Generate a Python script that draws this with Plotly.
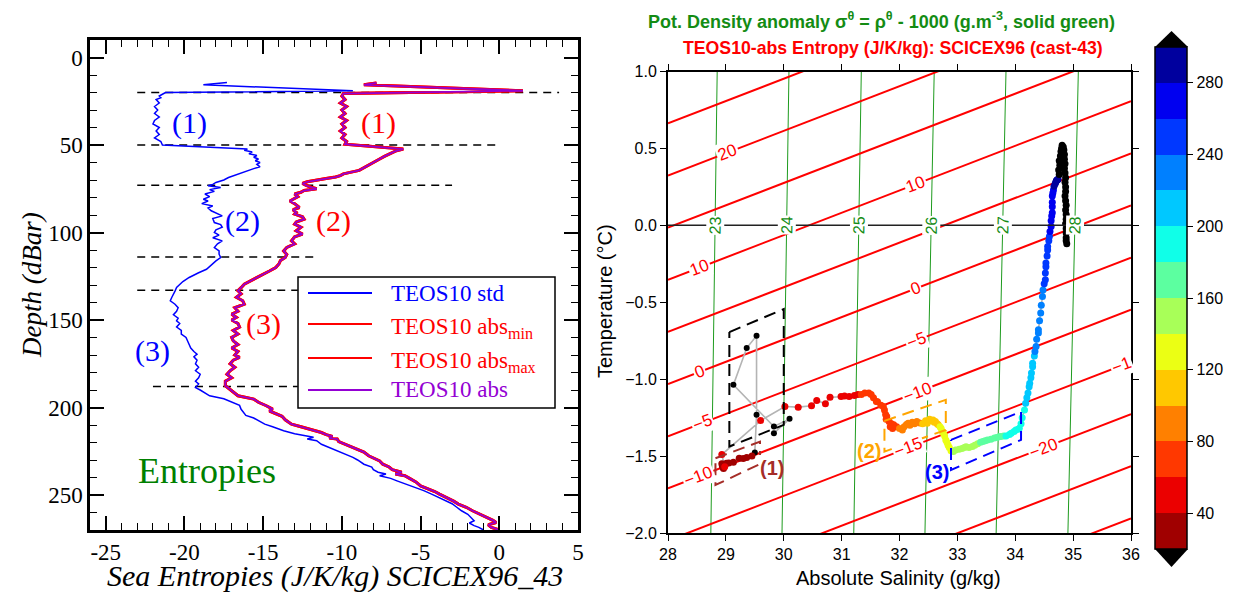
import plotly.graph_objects as go

# The page body adds an 8 px margin; the figure is sized so that it exactly fills the window.
OFF = 8
W, H = 1233 - OFF, 593 - OFF


def px(x):
    return (x - OFF) / W


def py(y):
    return 1 - (y - OFF) / H


# ----------------------------------------------------------------- DATA ----
# Left panel : entropy profiles (J/K/kg) versus depth (dBar)
std_depth = [14.3, 15.6, 19.0, 20.0, 21, 22, 23, 24, 26, 28, 30, 32, 34, 36, 38, 40, 42, 44, 46, 48, 50,
             50.5, 51.5, 52.3, 53, 54, 55, 56, 57, 58, 59, 60, 61, 62.5, 63.5, 64.8, 66, 67.5, 68.6, 70,
             71.4, 72.5, 73.3, 74.3, 75.5, 76.5, 78, 79.5, 81, 82, 83.5, 84.8, 86, 87.6, 89, 90.5, 92,
             94.3, 95.5, 97, 98.5, 100, 101.5, 103, 104.8, 106.5, 108.6, 110.5, 112.4, 114.3, 116.2, 118,
             121, 123, 125.7, 128, 131.4, 133.5, 135, 137, 139, 141, 143, 145, 147, 149, 150.5, 152, 154,
             156, 158, 160, 162, 163.8, 166, 168, 169.5, 171, 173, 175, 177, 179, 181, 183, 185, 186.5,
             188.6, 190, 191.5, 193.3, 195, 197, 198.8, 201, 203, 204.5, 206, 208, 209.5, 211, 213.3, 215,
             216, 217, 218, 219, 221, 222.8, 224.5, 226.7, 228.5, 230, 232.4, 234, 235.5, 237, 238, 239,
             240.5, 241.9, 243.5, 245.7, 247.5, 249.5, 251.5, 253.3, 255, 257, 259, 261, 263, 264.7, 266,
             267.5, 268.5, 270]
std_entropy = [-17.3, -18.8, -9.3, -21.2, -21.4, -21.6, -21.5, -21.8, -21.6, -21.9, -21.7, -21.9, -21.6,
               -21.9, -22.0, -21.6, -21.8, -21.6, -21.9, -21.5, -21.4,
               -20.0, -17.5, -16.0, -16.2, -15.7, -15.9, -15.4, -15.6, -15.3, -15.5, -15.2, -15.4, -15.2,
               -15.6, -16.0, -16.5, -16.9, -17.2, -17.5,
               -18.0, -18.2, -18.5, -17.7, -18.4, -18.1, -18.7, -18.4, -18.8, -18.5, -18.9, -18.2, -18.5,
               -18.3, -17.9, -17.6, -18.2,
               -18.1, -17.7, -17.6, -18.0, -18.1, -17.8, -18.2, -17.6, -17.9, -18.1, -17.8, -17.8, -17.7,
               -18.0, -18.2,
               -18.6, -19.1, -19.7, -20.1, -20.5, -20.6, -20.7, -20.8, -20.9, -20.6, -20.4, -20.5, -20.7,
               -20.4, -20.5, -20.3, -20.5,
               -20.2, -20.2, -19.9, -19.8, -19.7, -19.6, -19.4, -19.2, -19.4, -19.2, -19.3, -19.1, -19.3,
               -19.0, -19.1, -19.3, -19.1,
               -19.3, -19.0, -18.7, -18.4, -17.5, -17.0, -16.5, -16.4, -16.2, -16.1, -15.6, -15.2, -14.9,
               -14.4, -13.7, -13.0,
               -12.5, -11.8, -12.2, -11.6, -11.3, -10.8, -10.3, -9.8, -9.3, -9.0, -8.6, -8.1, -8.0, -7.7,
               -7.2, -7.6,
               -6.9, -6.5, -6.0, -5.3, -4.8, -4.3, -3.8, -3.4, -3.0, -2.7, -2.4, -2.0, -1.8, -1.6, -1.9,
               -1.6, -1.3, -1.0]

abs_depth = [14.5, 15.6, 19.0, 20.6, 22, 24, 26, 28, 30, 32, 34, 36, 38, 40, 42, 44, 46, 48, 49.5,
             50.5, 51.5, 52.3, 53.5, 55, 56.5, 58, 59.5, 60.7, 62, 63.2, 64.5, 65.5, 66.5, 67.5, 68.3,
             69.2, 70.2, 71, 72, 73, 74, 75, 76, 77, 78, 79.5, 81, 82, 83.5, 85, 85.7, 87, 88.5, 89.5, 91,
             92.4, 94, 95.2, 97, 99, 100.9, 102.5, 104.8, 106.5, 108.5, 110.5, 112.5, 114.3, 116, 118, 120,
             122, 124.8, 127, 129.5, 131.5, 133.3, 135, 137, 139, 141, 143, 145, 146.7, 148.5, 150, 152,
             154, 156, 158, 160, 161.9, 164, 166, 168, 170, 171.4, 173, 175, 177, 179, 181, 183, 185,
             187.6, 189, 191, 193.3, 195.2, 197, 199, 200.9, 202, 203.5, 205, 207, 209.5, 211, 212.5,
             214.3, 215.5, 216.5, 217.5, 218, 219.5, 221, 222.8, 224, 225.5, 227.6, 229, 230.5, 232.4,
             234, 235.5, 237, 238, 239, 240.5, 242.5, 244.8, 246.5, 248, 249.5, 251.5, 253.5, 255.2, 257,
             259, 261, 263, 264.5, 265.7, 267, 268.5, 270]
abs_entropy = [-7.8, -8.6, 1.5, -9.9, -10.0, -9.8, -10.1, -9.7, -10.0, -9.8, -10.1, -9.7, -10.0, -9.8,
               -10.1, -9.8, -10.0, -9.7, -9.8,
               -8.5, -6.8, -6.1, -6.6, -7.0, -7.3, -7.6, -7.9, -8.2, -8.4, -8.7, -8.9, -9.4, -9.9, -10.1,
               -10.4,
               -11.0, -11.8, -12.2, -12.5, -12.3, -12.0, -11.6, -12.4, -12.6, -13.0, -12.8, -13.1, -13.3,
               -13.0, -12.8, -12.7, -13.1, -12.9, -13.0, -12.5,
               -12.4, -12.9, -13.0, -12.6, -12.9, -12.5, -13.0, -13.2, -13.0, -13.5, -13.7, -13.5, -13.6,
               -13.9, -14.0, -14.2,
               -14.6, -15.2, -15.7, -16.2, -16.4, -16.6, -16.4, -16.7, -16.3, -16.2, -16.8, -16.6, -17.0,
               -16.7, -17.0, -16.6,
               -16.5, -16.9, -16.6, -17.0, -16.9, -16.6, -17.0, -16.6, -16.8, -16.5, -16.9, -17.1, -16.8,
               -17.1, -17.3, -17.0, -17.4,
               -17.4, -17.2, -16.9, -16.6, -15.6, -15.3, -14.8, -14.4, -14.6, -14.2, -13.8, -13.6, -13.2,
               -12.6, -12.0,
               -11.3, -11.0, -10.6, -10.8, -10.3, -10.2, -9.8, -9.3, -9.0, -8.6, -8.3, -8.0, -7.6, -7.4,
               -7.0, -6.8, -6.2, -6.6, -6.0, -5.7, -5.3, -5.0, -4.5, -4.1, -3.8, -3.3, -2.9, -2.6, -2.1,
               -1.7, -1.2, -0.8, -0.4, -0.2, -0.7, -0.5, 0.0]

layer_depth = [20, 50, 73, 114, 133, 188]
layer_entropy_start = [-23.0, -23.0, -23.0, -23.0, -23.0, -22.0]
layer_entropy_end = [3.8, 0.0, -3.0, -11.5, -12.8, -12.8]

left_xticks = [-25, -20, -15, -10, -5, 0, 5]
left_xticklabels = ["-25", "-20", "-15", "-10", "-5", "0", "5"]
left_yticks = [0, 50, 100, 150, 200, 250]

# Right panel : T-S diagram
surf_S = [29.83, 30.10, 29.83, 29.13, 29.36, 29.53, 29.53, 29.50]
surf_T = [-1.351, -1.258, -1.308, -1.037, -0.798, -0.718, -1.232, -1.477]

cast_depth = [21, 23, 25, 27, 29, 31, 33, 35, 36, 37, 38, 39,
              41, 43, 45, 47, 49, 51, 52, 53, 54, 55, 56, 57, 58, 59,
              61, 62, 63, 64, 65, 66, 67, 68, 69, 70, 71, 72, 73, 74, 75, 76, 77, 78, 79,
              81, 83, 85, 87, 89, 91, 93, 95, 97, 99,
              101, 103, 105, 107, 109, 111, 113, 115, 117, 119,
              121, 123, 125, 127, 129, 131, 133, 135, 137, 139,
              141, 143, 145, 147, 149, 151, 153, 155, 157, 159,
              161, 163, 165, 167, 169, 171, 173, 175, 177, 179,
              181, 183, 185, 187, 189, 191, 193, 195, 197, 199,
              201, 203, 205, 207, 209, 211, 213, 215, 217, 219,
              221, 223, 225, 227, 229, 231, 233, 235, 237, 239,
              241, 243, 245, 247, 249, 251, 253, 255, 257, 259,
              261, 263, 265, 267, 269, 271, 273, 275, 277, 279,
              281, 284, 287, 290, 293, 296, 299]
cast_S = [29.45, 29.36, 29.30, 29.23, 29.13, 29.05, 29.01, 28.97, 28.95, 28.93, 28.96, 28.94,
          28.98, 28.93, 29.60, 30.02, 30.25, 30.48, 30.57, 30.72, 30.80, 30.99, 31.05, 31.13, 31.22, 31.28,
          31.34, 31.40, 31.47, 31.51, 31.55, 31.60, 31.62, 31.68, 31.72, 31.74, 31.76, 31.78, 31.77, 31.82,
          31.86, 31.84, 31.90, 31.88, 31.95,
          32.00, 32.05, 32.08, 32.12, 32.15, 32.18, 32.22, 32.26, 32.30, 32.35,
          32.40, 32.45, 32.48, 32.52, 32.55, 32.58, 32.60, 32.62, 32.65, 32.67,
          32.70, 32.72, 32.74, 32.76, 32.78, 32.80, 32.82, 32.84, 32.86, 32.89,
          32.93, 32.97, 33.03, 33.08, 33.12, 33.15, 33.20, 33.26, 33.30, 33.35,
          33.40, 33.44, 33.48, 33.52, 33.58, 33.64, 33.68, 33.72, 33.75, 33.80,
          33.84, 33.90, 33.93, 33.98, 34.01, 34.05, 34.07, 34.10, 34.12, 34.16,
          34.18, 34.20, 34.22, 34.24, 34.25, 34.27, 34.28, 34.30, 34.30, 34.33,
          34.34, 34.36, 34.37, 34.40, 34.40, 34.42, 34.44, 34.45, 34.47, 34.48,
          34.50, 34.52, 34.52, 34.53, 34.53, 34.55, 34.56, 34.56, 34.58, 34.59,
          34.60, 34.62, 34.62, 34.63, 34.64, 34.64, 34.64, 34.64, 34.65, 34.66,
          34.67, 34.69, 34.70, 34.71, 34.72, 34.73, 34.74]
cast_T = [-1.500, -1.510, -1.515, -1.514, -1.540, -1.545, -1.547, -1.560, -1.575, -1.550, -1.580, -1.565,
          -1.570, -1.490, -1.269, -1.178, -1.182, -1.173, -1.139, -1.160, -1.117, -1.113, -1.110, -1.113,
          -1.106, -1.100,
          -1.100, -1.090, -1.090, -1.100, -1.120, -1.145, -1.146, -1.170, -1.178, -1.200, -1.230, -1.243,
          -1.260, -1.275, -1.290, -1.310, -1.297, -1.320, -1.310,
          -1.320, -1.330, -1.310, -1.295, -1.286, -1.300, -1.280, -1.290, -1.276, -1.285,
          -1.290, -1.270, -1.286, -1.260, -1.270, -1.265, -1.280, -1.275, -1.290, -1.297,
          -1.310, -1.320, -1.340, -1.351, -1.370, -1.395, -1.410, -1.430, -1.445, -1.465,
          -1.470, -1.460, -1.455, -1.450, -1.445, -1.440, -1.445, -1.438, -1.430, -1.420,
          -1.410, -1.405, -1.400, -1.395, -1.390, -1.383, -1.380, -1.375, -1.373, -1.370,
          -1.369, -1.360, -1.351, -1.340, -1.330, -1.325, -1.319, -1.290, -1.250, -1.200,
          -1.156, -1.120, -1.090, -1.050, -1.026, -0.990, -0.960, -0.920, -0.896, -0.850,
          -0.820, -0.788, -0.740, -0.700, -0.679, -0.620, -0.570, -0.520, -0.462, -0.420,
          -0.380, -0.354, -0.310, -0.270, -0.245, -0.200, -0.160, -0.137, -0.100, -0.072,
          -0.040, -0.007, 0.030, 0.060, 0.081, 0.120, 0.150, 0.190, 0.210, 0.230,
          0.254, 0.270, 0.280, 0.290, 0.295, 0.297, 0.300]

deep_S = [34.76, 34.75, 34.77, 34.76, 34.78, 34.79, 34.80, 34.81, 34.83, 34.84, 34.85, 34.85, 34.86,
          34.85, 34.86, 34.87, 34.86, 34.87, 34.87, 34.86, 34.87, 34.88, 34.87, 34.88, 34.88, 34.87,
          34.88, 34.88, 34.88, 34.88, 34.89]
deep_T = [0.33, 0.36, 0.39, 0.42, 0.45, 0.48, 0.50, 0.52, 0.51, 0.49, 0.46, 0.43, 0.40, 0.37, 0.34,
          0.31, 0.28, 0.25, 0.22, 0.19, 0.16, 0.13, 0.10, 0.07, 0.04, 0.01, -0.02, -0.05, -0.08, -0.10,
          -0.12]

# potential density anomaly isolines (straight segments between T = -2 and T = 1)
sigma_levels = [23, 24, 25, 26, 27, 28]
sigma_T_ends = [-2.0, 1.0]
sigma_S_at_Tmin = [28.74, 29.97, 31.21, 32.44, 33.67, 34.91]
sigma_S_at_Tmax = [28.85, 30.09, 31.34, 32.60, 33.84, 35.09]

# entropy isolines (straight segments between S = 28 and S = 36)
eta_levels = [-30, -25, -20, -15, -10, -5, 0, 5, 10, 15, 20, 25]
eta_S_ends = [28.0, 36.0]
eta_T_at_S28 = [-3.066, -2.727, -2.388, -2.049, -1.710, -1.371, -1.032, -0.693, -0.354, -0.015, 0.324, 0.663]
eta_T_at_S36 = [-1.905, -1.566, -1.227, -0.888, -0.549, -0.210, 0.129, 0.468, 0.807, 1.146, 1.485, 1.824]
eta_label_level = [20, 10, 10, 0, 0, -5, -5, -10, -10, -15, -15, -20]
eta_label_S = [29.02, 28.55, 32.27, 28.55, 32.27, 28.60, 32.29, 28.52, 32.31, 32.15, 35.83, 34.48]

# boxes of the three layers
box1_S = [29.06, 30.00, 30.00, 29.06, 29.06]
box1_T = [-0.694, -0.544, -1.297, -1.438, -0.694]
boxL1_S = [28.82, 29.59, 29.59, None, 29.56, 28.82, 28.82]
boxL1_T = [-1.514, -1.406, -1.493, None, -1.557, -1.688, -1.514]
boxL2_S = [31.74, 32.80, 32.80, 31.74, 31.74]
boxL2_T = [-1.271, -1.134, -1.330, -1.471, -1.271]
boxL3_S = [32.89, 34.10, 34.10, 32.89, 32.89]
boxL3_T = [-1.395, -1.211, -1.395, -1.590, -1.395]

cbar_colors = ['#a00000', '#eb0000', '#ff3800', '#ff8000', '#ffc800', '#ebff14', '#a8ff58',
               '#5cffa0', '#10ffe8', '#00c8ff', '#0080ff', '#0038ff', '#0000f0', '#00009e']
cbar_min, cbar_max = 20, 300
cbar_ticks = [40, 80, 120, 160, 200, 240, 280]

# ---------------------------------------------------------------- STYLE ----
SERIF = "Liberation Serif"
SANS = "Liberation Sans"
PURPLE = "rgb(148,0,211)"
GREEN_TXT = "rgb(20,140,20)"
GREEN_LINE = "rgb(30,155,30)"
DASH = "12px,7px"

fig = go.Figure()

# ---- left panel ----
for d, e0, e1 in zip(layer_depth, layer_entropy_start, layer_entropy_end):
    fig.add_trace(go.Scatter(x=[e0, e1], y=[d, d], mode="lines", xaxis="x", yaxis="y",
                             line=dict(color="black", width=1.6, dash="8px,6px"), hoverinfo="skip"))
for nm in ["TEOS10 abs min", "TEOS10 abs max"]:
    fig.add_trace(go.Scatter(x=abs_entropy, y=abs_depth, mode="lines", name=nm, xaxis="x", yaxis="y",
                             line=dict(color="red", width=3.0)))
fig.add_trace(go.Scatter(x=abs_entropy, y=abs_depth, mode="lines", name="TEOS10 abs", xaxis="x",
                         yaxis="y", line=dict(color=PURPLE, width=1.8)))
fig.add_trace(go.Scatter(x=std_entropy, y=std_depth, mode="lines", name="TEOS10 std", xaxis="x",
                         yaxis="y", line=dict(color="blue", width=1.5)))

# ---- right panel ----
for sb, st in zip(sigma_S_at_Tmin, sigma_S_at_Tmax):
    fig.add_trace(go.Scatter(x=[sb, st], y=sigma_T_ends, mode="lines", xaxis="x2", yaxis="y2",
                             line=dict(color=GREEN_LINE, width=1), hoverinfo="skip"))
for t0, t1 in zip(eta_T_at_S28, eta_T_at_S36):
    fig.add_trace(go.Scatter(x=eta_S_ends, y=[t0, t1], mode="lines", xaxis="x2", yaxis="y2",
                             line=dict(color="red", width=2), hoverinfo="skip"))

fig.add_trace(go.Scatter(x=surf_S + cast_S + deep_S, y=surf_T + cast_T + deep_T, mode="lines",
                         xaxis="x2", yaxis="y2", line=dict(color="#b4b4b4", width=1.6), hoverinfo="skip"))
fig.add_trace(go.Scatter(x=surf_S, y=surf_T, mode="markers", xaxis="x2", yaxis="y2",
                         marker=dict(color="black", size=6)))

scale = []
for i, c in enumerate(cbar_colors):
    scale.append([i / len(cbar_colors), c])
    scale.append([(i + 1) / len(cbar_colors), c])

fig.add_trace(go.Scatter(
    x=cast_S, y=cast_T, mode="markers", xaxis="x2", yaxis="y2",
    marker=dict(color=cast_depth, colorscale=scale, cmin=cbar_min, cmax=cbar_max, size=7,
                colorbar=dict(x=px(1155), xanchor="left", xpad=0, y=py(298), yanchor="middle", ypad=0,
                              len=502, lenmode="pixels", thickness=32, thicknessmode="pixels",
                              outlinewidth=1.5, outlinecolor="black", tickvals=cbar_ticks,
                              ticks="outside", ticklen=6, tickwidth=1, tickcolor="black",
                              tickfont=dict(family=SANS, size=16, color="black"))),
))
fig.add_trace(go.Scatter(x=deep_S, y=deep_T, mode="markers", xaxis="x2", yaxis="y2",
                         marker=dict(color="black", size=7)))

for bs, bt, col in [(box1_S, box1_T, "black"), (boxL1_S, boxL1_T, "rgb(165,45,40)"),
                    (boxL2_S, boxL2_T, "orange"), (boxL3_S, boxL3_T, "blue")]:
    fig.add_trace(go.Scatter(x=bs, y=bt, mode="lines", xaxis="x2", yaxis="y2",
                             line=dict(color=col, width=2, dash=DASH), hoverinfo="skip"))

# ---------------------------------------------------------------- AXES -----
left_common = dict(showline=True, linewidth=2.5, linecolor="black", mirror="allticks",
                   ticks="inside", ticklen=14, tickwidth=1.6, tickcolor="black",
                   showgrid=False, zeroline=False, automargin=False,
                   tickfont=dict(family=SERIF, size=23, color="black"))
right_common = dict(showline=True, linewidth=2, linecolor="black", mirror="ticks",
                    ticks="outside", ticklen=6, tickwidth=1.2, tickcolor="black",
                    showgrid=False, zeroline=False, automargin=False,
                    tickfont=dict(family=SANS, size=16, color="black"))

fig.update_layout(
    width=W, height=H, margin=dict(l=0, r=0, t=0, b=0, pad=0, autoexpand=False),
    paper_bgcolor="white", plot_bgcolor="white", showlegend=False,
    xaxis=dict(domain=[px(90), px(578)], range=[-26, 5], tickvals=left_xticks,
               ticktext=left_xticklabels, anchor="y",
               minor=dict(dtick=1, ticks="inside", ticklen=7, tickwidth=1.2, tickcolor="black"),
               **left_common),
    yaxis=dict(domain=[py(530), py(40)], range=[270, -10], tickvals=left_yticks, anchor="x",
               minor=dict(dtick=10, ticks="inside", ticklen=7, tickwidth=1.2, tickcolor="black"),
               **left_common),
    xaxis2=dict(domain=[px(668), px(1131)], range=[28, 36], dtick=1, anchor="y2", **right_common),
    yaxis2=dict(domain=[py(533), py(71.5)], range=[-2, 1], dtick=0.5, tickformat=".1f",
                anchor="x2", **right_common),
)

# ---------------------------------------------------------------- SHAPES ---
shapes = [
    dict(type="line", xref="x2 domain", yref="y2", x0=0, x1=1, y0=0, y1=0,
         line=dict(color="#222", width=1.5), layer="above"),
    dict(type="path", xref="paper", yref="paper", fillcolor="black", line=dict(width=0),
         path=f"M {px(1155)},{py(47)} L {px(1188)},{py(47)} L {px(1171.5)},{py(31)} Z"),
    dict(type="path", xref="paper", yref="paper", fillcolor="black", line=dict(width=0),
         path=f"M {px(1155)},{py(549)} L {px(1188)},{py(549)} L {px(1171.5)},{py(567)} Z"),
    dict(type="rect", xref="paper", yref="paper", x0=px(298), x1=px(555), y0=py(408), y1=py(277),
         fillcolor="white", line=dict(color="black", width=1.5), layer="above"),
]
legend_rows = [("TEOS10 std", "blue", 293, 293),
               ("TEOS10 abs<sub>min</sub>", "red", 324, 328),
               ("TEOS10 abs<sub>max</sub>", "red", 358, 362),
               ("TEOS10 abs", PURPLE, 390, 389)]
for txt, col, yl, yt in legend_rows:
    shapes.append(dict(type="line", xref="paper", yref="paper", x0=px(308), x1=px(372), y0=py(yl),
                       y1=py(yl), line=dict(color=col, width=2), layer="above"))
fig.update_layout(shapes=shapes)

# ----------------------------------------------------------- ANNOTATIONS ---
ann = []


def paper_text(text, x, y, size, color, family, angle=0, xanchor="center"):
    return dict(text=text, xref="paper", yref="paper", x=px(x), y=py(y), xanchor=xanchor,
                yanchor="middle", textangle=angle, showarrow=False,
                font=dict(family=family, size=size, color=color))


for txt, col, yl, yt in legend_rows:
    ann.append(paper_text(txt, 389, yt, 23, col, SERIF, xanchor="left"))

for txt, col, e, d in [("(1)", "blue", -19.67, 37.3), ("(1)", "red", -7.7, 37.3),
                       ("(2)", "blue", -16.34, 93.3), ("(2)", "red", -10.56, 93.3),
                       ("(3)", "blue", -22.0, 167.6), ("(3)", "red", -15.0, 152.4)]:
    ann.append(dict(text=txt, x=e, y=d, xref="x", yref="y", showarrow=False, xanchor="center",
                    yanchor="middle", font=dict(family=SERIF, size=30, color=col)))
ann.append(dict(text="Entropies", x=-18.54, y=236.2, xref="x", yref="y", showarrow=False,
                xanchor="center", yanchor="middle", font=dict(family=SERIF, size=36, color="green")))
ann.append(paper_text("<i>Depth (dBar)</i>", 32, 285, 27, "black", SERIF, angle=-90))
ann.append(paper_text("<i>Sea Entropies (J/K/kg) SCICEX96_43</i>", 335, 576, 30, "black", SERIF))

# right panel titles
ann.append(paper_text("<b>Pot. Density anomaly σ<sup>θ</sup> = ρ<sup>θ</sup> - 1000 (g.m<sup>-3</sup>, solid green)</b>",
                      881, 20, 18, GREEN_TXT, SANS))
ann.append(paper_text("<b>TEOS10-abs Entropy (J/K/kg): SCICEX96 (cast-43)</b>", 893, 48, 17.7, "red", SANS))
ann.append(paper_text("Temperature (°C)", 605, 301, 20, "black", SANS, angle=-90))
ann.append(paper_text("Absolute Salinity (g/kg)", 899, 578, 20, "black", SANS))

# isoline labels
for lev, sb, st in zip(sigma_levels, sigma_S_at_Tmin, sigma_S_at_Tmax):
    s0 = sb + (st - sb) * (0 - sigma_T_ends[0]) / (sigma_T_ends[1] - sigma_T_ends[0])
    ann.append(dict(text=str(lev), x=s0, y=0, xref="x2", yref="y2", showarrow=False, textangle=-89,
                    xanchor="center", yanchor="middle", bgcolor="white", borderpad=0,
                    font=dict(family=SANS, size=16, color=GREEN_TXT)))
for lev, s in zip(eta_label_level, eta_label_S):
    i = eta_levels.index(lev)
    t = eta_T_at_S28[i] + (eta_T_at_S36[i] - eta_T_at_S28[i]) * (s - eta_S_ends[0]) / (eta_S_ends[1] - eta_S_ends[0])
    txt = str(lev).replace("-", "−")
    if s > 35.5:
        txt = txt[:-1]
    ann.append(dict(text=txt, x=s, y=t, xref="x2", yref="y2", showarrow=False, textangle=-21,
                    xanchor="center", yanchor="middle", bgcolor="white", borderpad=1,
                    font=dict(family=SANS, size=17, color="red")))

for txt, col, s, t in [("(1)", "rgb(165,45,40)", 29.79, -1.58), ("(2)", "orange", 31.48, -1.466),
                       ("(3)", "blue", 32.65, -1.606)]:
    ann.append(dict(text=f"<b>{txt}</b>", x=s, y=t, xref="x2", yref="y2", showarrow=False,
                    xanchor="center", yanchor="middle", font=dict(family=SANS, size=20, color=col)))

fig.update_layout(annotations=ann)

fig.write_html("out.html")
